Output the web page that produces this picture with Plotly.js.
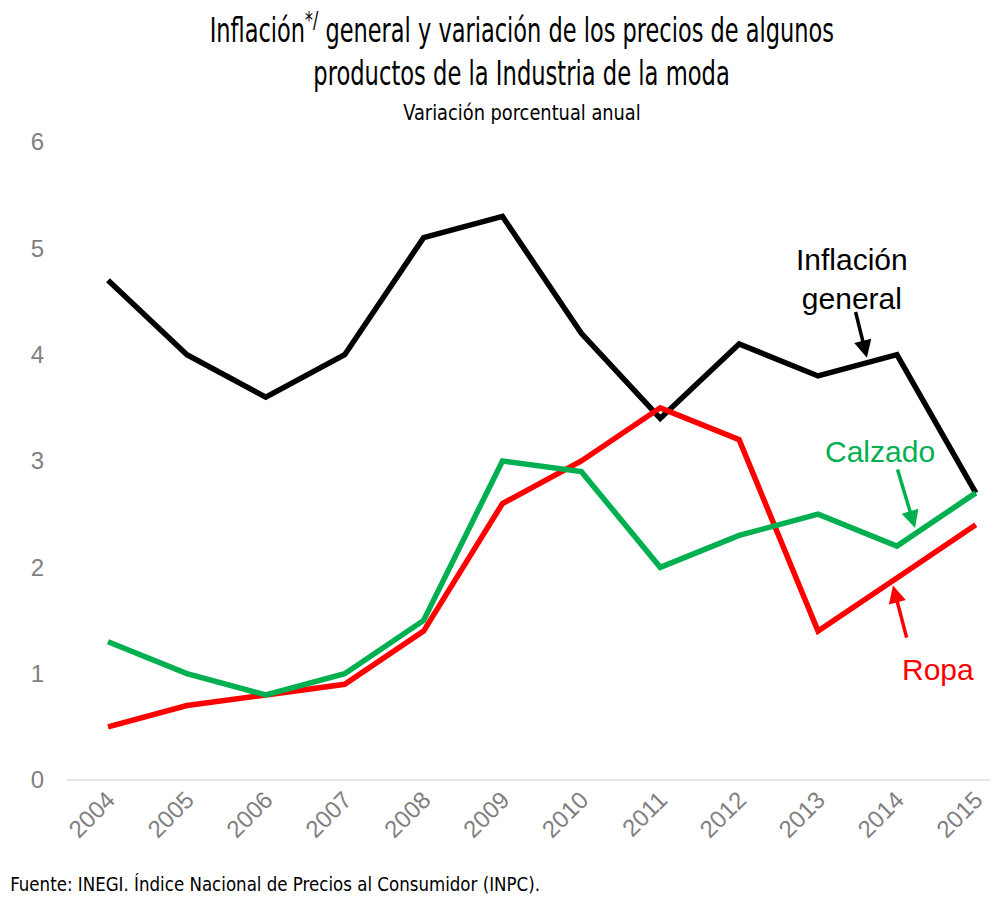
<!DOCTYPE html>
<html><head><meta charset="utf-8">
<script src="https://cdn.plot.ly/plotly-3.0.1.min.js"></script>
<style>html,body{margin:0;padding:0;background:#fff}</style>
</head><body>
<div id="chart" style="width:998px;height:897px"></div>
<script>
const years = [2004,2005,2006,2007,2008,2009,2010,2011,2012,2013,2014,2015];
const inflacion = [4.7,4.0,3.6,4.0,5.1,5.3,4.2,3.4,4.1,3.8,4.0,2.7];
const calzado = [1.3,1.0,0.8,1.0,1.5,3.0,2.9,2.0,2.3,2.5,2.2,2.7];
const ropa = [0.5,0.7,0.8,0.9,1.4,2.6,3.0,3.5,3.2,1.4,1.9,2.4];
const yTicks = [0,1,2,3,4,5,6];
const titleLines = ['Inflación<sup>*/</sup> general y variación de los precios de algunos', 'productos de la Industria de la moda'];
const subtitle = 'Variación porcentual anual';
const source = 'Fuente: INEGI. Índice Nacional de Precios al Consumidor (INPC).';

const cond = '"DejaVu Sans Condensed", "DejaVu Sans", sans-serif';
const arial = '"Liberation Sans", Arial, sans-serif';

const traces = [
  {x: years, y: inflacion, mode:'lines', name:'Inflación general', line:{color:'#000000', width:5.5}},
  {x: years, y: ropa, mode:'lines', name:'Ropa', line:{color:'#ff0000', width:5.5}},
  {x: years, y: calzado, mode:'lines', name:'Calzado', line:{color:'#00b050', width:5.5}}
];

const H = 638; // plot height in px
const layout = {
  width: 998, height: 897,
  paper_bgcolor:'#ffffff', plot_bgcolor:'#ffffff',
  showlegend:false,
  margin:{l:67, r:8, t:142, b:117},
  xaxis:{
    range:[2003.48, 2015.18],
    tickvals: years, ticktext: years.map(String),
    tickangle:-45,
    tickfont:{family:arial, size:24, color:'#7f7f7f'},
    showgrid:false, zeroline:false, showline:false, ticks:''
  },
  yaxis:{
    range:[0,6],
    tickvals: yTicks,
    tickfont:{family:arial, size:24, color:'#7f7f7f'},
    showgrid:false, zeroline:true, zerolinecolor:'#e6e6e6', zerolinewidth:2,
    showline:false, ticks:'', ticklabelstandoff:22
  },
  annotations:[
    {xref:'paper', yref:'paper', x:0.5, y:1+(142-28)/H, text:titleLines[0], showarrow:false,
     font:{family:cond, size:34, color:'#000'}, xanchor:'center', yanchor:'middle', xshift:-7},
    {xref:'paper', yref:'paper', x:0.5, y:1+(142-73)/H, text:titleLines[1], showarrow:false,
     font:{family:cond, size:34, color:'#000'}, xanchor:'center', yanchor:'middle', xshift:-7},
    {xref:'paper', yref:'paper', x:0.5, y:1+(142-112)/H, text:subtitle, showarrow:false,
     font:{family:cond, size:22, color:'#000'}, xanchor:'center', yanchor:'middle', xshift:-7},
    {xref:'paper', yref:'paper', x:0, y:-(884-780)/H, text:source, showarrow:false,
     font:{family:cond, size:19, color:'#000'}, xanchor:'left', yanchor:'middle', xshift:-59},
    {x:2013.43, y:4.71, text:'Inflación<br>general', showarrow:false, font:{family:arial, size:30, color:'#000'}, align:'center'},
    {x:2013.78, y:3.09, text:'Calzado', showarrow:false, font:{family:arial, size:30, color:'#00b050'}},
    {x:2014.52, y:1.04, text:'Ropa', showarrow:false, font:{family:arial, size:30, color:'#ff0000'}},
    {x:2013.62, y:3.97, ax:2013.47, ay:4.42, axref:'x', ayref:'y', text:' ', showarrow:true, arrowhead:2, arrowsize:1, arrowwidth:3.5, arrowcolor:'#000', font:{size:1}},
    {x:2014.23, y:2.37, ax:2014.0, ay:2.94, axref:'x', ayref:'y', text:' ', showarrow:true, arrowhead:2, arrowsize:1, arrowwidth:3.5, arrowcolor:'#00b050', font:{size:1}},
    {x:2013.95, y:1.83, ax:2014.13, ay:1.32, axref:'x', ayref:'y', text:' ', showarrow:true, arrowhead:2, arrowsize:1, arrowwidth:3.5, arrowcolor:'#ff0000', font:{size:1}}
  ]
};
// horizontal condensing to mimic the narrow title face
const squeeze = {0:[0.735,'center'], 1:[0.74,'center'], 2:[0.9,'center'], 3:[0.975,'left']};
Plotly.newPlot('chart', traces, layout, {displayModeBar:false, staticPlot:true}).then(function(gd){
  Object.keys(squeeze).forEach(function(i){
    const t = gd.querySelector('g.annotation[data-index="'+i+'"] text.annotation-text');
    if(t){
      t.style.transformBox = 'fill-box';
      t.style.transformOrigin = squeeze[i][1];
      t.style.transform = 'scaleX(' + squeeze[i][0] + ')';
    }
  });
});
</script>
</body></html>
